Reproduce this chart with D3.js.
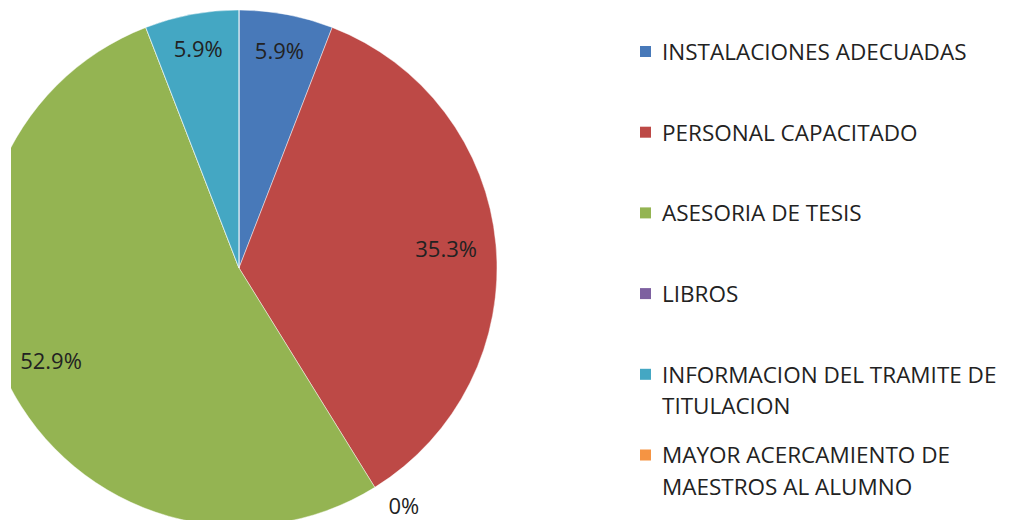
<!DOCTYPE html>
<html>
<head>
<meta charset="utf-8">
<title>Pie</title>
<script src="https://cdn.jsdelivr.net/npm/d3@7"></script>
<style>
    body { margin: 0; background: #fff; }
    text { font-family: "Open Sans", Lato, sans-serif; fill: #222; }
</style>
</head>
<body>
<script>
// chart data
var categories = ['INSTALACIONES ADECUADAS', 'PERSONAL CAPACITADO', 'ASESORIA DE TESIS',
    'LIBROS', 'INFORMACION DEL TRAMITE DE TITULACION', 'MAYOR ACERCAMIENTO DE MAESTROS AL ALUMNO'];
var legendLines = [['INSTALACIONES ADECUADAS'], ['PERSONAL CAPACITADO'], ['ASESORIA DE TESIS'],
    ['LIBROS'], ['INFORMACION DEL TRAMITE DE', 'TITULACION'], ['MAYOR ACERCAMIENTO DE', 'MAESTROS AL ALUMNO']];
var values = [1, 6, 9, 0, 1, 0];
var labels = ['5.9%', '35.3%', '52.9%', '0%', '5.9%', ''];
var colors = ['#4879b9', '#bd4946', '#94b452', '#7d60a0', '#44a7c3', '#f59443'];

var width = 1019, height = 520;
var cx = 239, cy = 268, radius = 258;

var svg = d3.select('body').append('svg')
    .attr('width', width)
    .attr('height', height);

// left edge of the pie is cut off in the original
svg.append('clipPath').attr('id', 'clip')
    .append('rect').attr('x', 11).attr('y', 0).attr('width', width).attr('height', height);

var pie = d3.pie().sort(null).value(function(d) { return d; });
var arcs = pie(values);
var arc = d3.arc().innerRadius(0).outerRadius(radius);

var g = svg.append('g').attr('clip-path', 'url(#clip)')
    .append('g').attr('transform', 'translate(' + cx + ',' + cy + ')');

g.selectAll('path')
    .data(arcs)
    .enter().append('path')
    .attr('d', arc)
    .attr('fill', function(d, i) { return colors[i]; })
    .attr('stroke', 'rgba(255,255,255,0.45)')
    .attr('stroke-width', 1);

// label radius per slice (the zero slice sits outside, at the red/green border)
var labelR = [220, 208, 210, 290, 222, 0];
var zeroAngle = arcs[1].endAngle - 0.05;

svg.append('g').attr('transform', 'translate(' + cx + ',' + cy + ')')
    .selectAll('text.pct')
    .data(arcs)
    .enter().append('text')
    .attr('class', 'pct')
    .attr('text-anchor', 'middle')
    .attr('dy', '0.35em')
    .style('font-size', '22px')
    .attr('transform', function(d, i) {
        var a = values[i] === 0 ? zeroAngle : (d.startAngle + d.endAngle) / 2;
        var r = labelR[i];
        return 'translate(' + (Math.sin(a) * r) + ',' + (-Math.cos(a) * r) + ')';
    })
    .text(function(d, i) { return labels[i]; });

// legend
var legend = svg.append('g').attr('transform', 'translate(640,52)');
var rowStep = 80.7;
var item = legend.selectAll('g')
    .data(categories)
    .enter().append('g')
    .attr('transform', function(d, i) { return 'translate(0,' + (i * rowStep) + ')'; });

item.append('rect')
    .attr('x', 0).attr('y', -6)
    .attr('width', 11).attr('height', 11)
    .attr('fill', function(d, i) { return colors[i]; });

item.append('text')
    .style('font-size', '22.5px')
    .attr('x', 22)
    .selectAll('tspan')
    .data(function(d, i) { return legendLines[i]; })
    .enter().append('tspan')
    .attr('x', 22)
    .attr('dy', function(d, j) { return j === 0 ? '0.35em' : '1.4em'; })
    .text(function(d) { return d; });
</script>
</body>
</html>
